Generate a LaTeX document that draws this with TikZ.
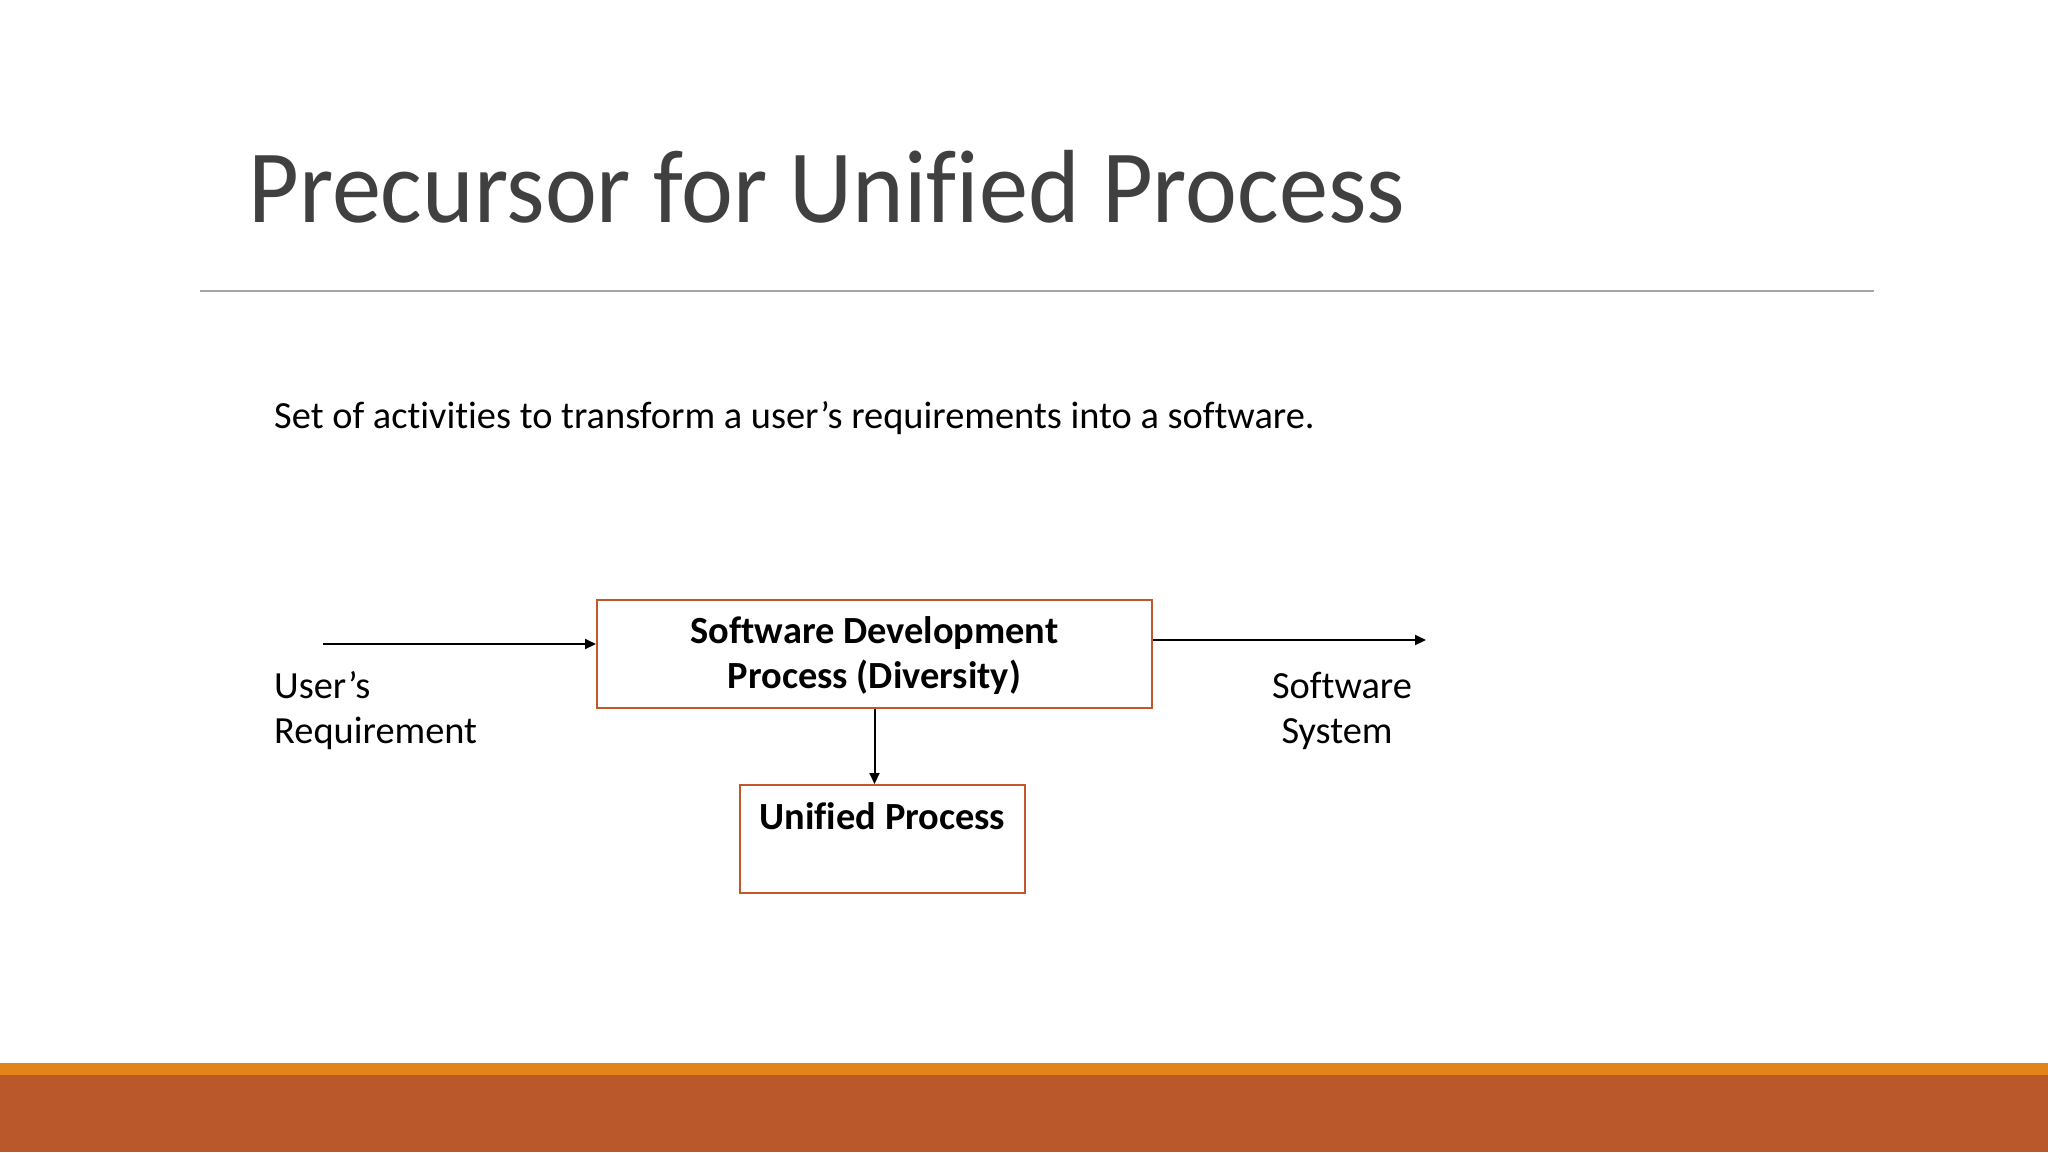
\documentclass[tikz,border=0pt]{standalone}
\usepackage{fontspec}
\setmainfont[Ligatures=NoCommon]{Carlito}
\usetikzlibrary{arrows.meta}
\definecolor{titlegray}{HTML}{404040}
\definecolor{rulegray}{HTML}{A6A6A6}
\definecolor{boxedge}{HTML}{C0582C}
\definecolor{barorange}{HTML}{E3841A}
\definecolor{bardark}{HTML}{BA582C}
\tikzset{
  boxnode/.style={draw=boxedge, line width=2pt, inner sep=0pt},
  conn/.style={line width=2pt, -{Triangle[length=11pt,width=10pt]}},
  bodytext/.style={inner sep=0pt, font=\fontsize{38.4}{45}\selectfont},
  boldtext/.style={inner sep=0pt, font=\fontsize{38.4}{45}\selectfont\bfseries, align=center},
}
\begin{document}
\begin{tikzpicture}[x=1pt,y=-1pt]
\useasboundingbox (0,0) rectangle (2048,1152);
\fill[white] (0,0) rectangle (2048,1152);
% bottom bars
\fill[barorange] (0,1063) rectangle (2048,1075);
\fill[bardark] (0,1075) rectangle (2048,1152);
% title
\node[anchor=base west, inner sep=0pt, text=titlegray, font=\fontsize{104}{120}\selectfont] (title) at (248,222) {\scalebox{0.945}[1]{Precursor for Unified Process}};
\coordinate (ruleL) at (200,291);
\coordinate (ruleR) at (1874,291);
\draw[rulegray, line width=1.5pt] (ruleL) -- (ruleR);
% body text
\node[bodytext, anchor=base west] (intro) at (274,428) {Set of activities to transform a user’s requirements into a software.};
% boxes
\node[boxnode, minimum width=555pt, minimum height=108pt] (sdp) at (874.5,654) {};
\node[boldtext] (sdptext) at (874.5,656) {Software Development\\Process (Diversity)};
\node[boxnode, minimum width=285pt, minimum height=108pt] (up) at (882.5,839) {};
\node[boldtext, anchor=base] (uptext) at (882.5,829) {Unified Process};
% labels
\node[bodytext, anchor=base west] (userreq) at (274,698) {User’s};
\node[bodytext, anchor=base west] (userreq2) at (274,743) {Requirement};
\node[bodytext, anchor=base] (sw) at (1342,698) {Software};
\node[bodytext, anchor=base] (sw2) at (1337,743) {System};
% connectors
\coordinate (inStart) at (323,644);
\coordinate (outEnd) at (1426,640);
\draw[conn] (inStart) -- (inStart -| sdp.west);
\draw[conn] (sdp.east |- outEnd) -- (outEnd);
\draw[conn] (sdp.south) -- (sdp.south |- up.north);
\end{tikzpicture}
\end{document}
